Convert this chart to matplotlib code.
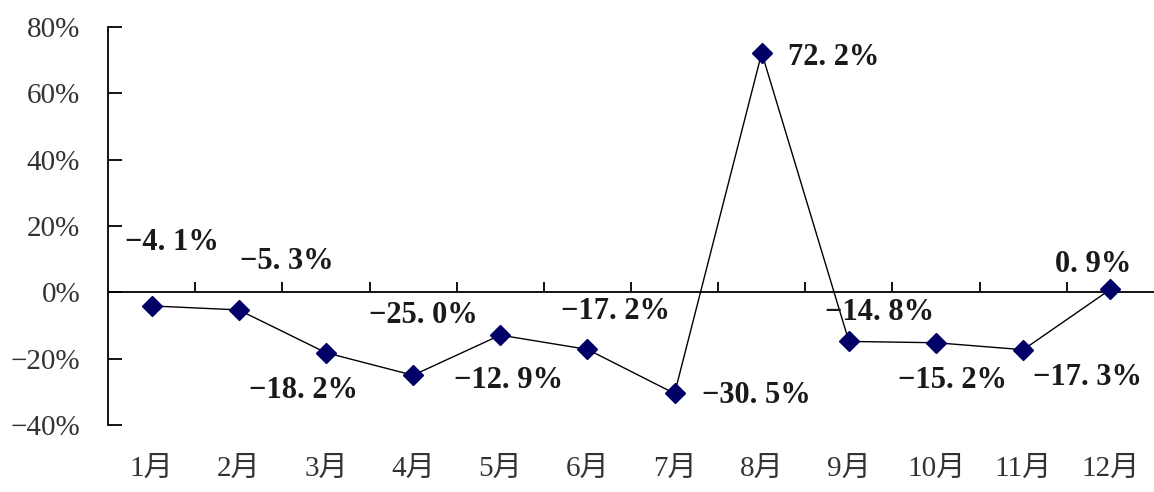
import matplotlib
matplotlib.use("Agg")
import matplotlib.pyplot as plt
from matplotlib.ticker import FuncFormatter

# Monthly growth rate (%)
months = ["1月", "2月", "3月", "4月", "5月", "6月", "7月", "8月", "9月", "10月", "11月", "12月"]
growth = [-4.1, -5.3, -18.2, -25.0, -12.9, -17.2, -30.5, 72.2, -14.8, -15.2, -17.3, 0.9]
y_ticks = [-40, -20, 0, 20, 40, 60, 80]

# label offsets (pixels) from each point, as in the original
label_offsets = [(20, 63), (48, 48), (-22, -38), (10, 60), (8, -45), (28, 38),
                 (82, -2), (72, -5), (31, 29), (16, -38), (64, -28), (-17, 25)]

FONT = ["Liberation Serif", "Noto Sans CJK SC"]
plt.rcParams["font.family"] = FONT
plt.rcParams["axes.unicode_minus"] = True

fig = plt.figure(figsize=(11.54, 4.92), dpi=100)
ax = fig.add_axes([108 / 1154, 67 / 492, 1046 / 1154, 398 / 492])

x = list(range(1, len(months) + 1))
ax.plot(x, growth, color="black", linewidth=1.0, zorder=2)
ax.plot(x, growth, linestyle="none", marker="D", markersize=10,
        markerfacecolor="#000066", markeredgecolor="#000066", zorder=3)

for xi, v, (dx, dy) in zip(x, growth, label_offsets):
    txt = f"{v:.1f}%".replace("-", "\u2212").replace(".", ". ")
    ax.annotate(txt, (xi, v), xytext=(dx, dy), textcoords="offset pixels",
                ha="center", va="center", fontsize=22, fontweight="bold",
                color="#1a1a1a")

ax.set_xlim(0.5, len(months) + 0.5)
ax.set_ylim(-40, 80)

# zero line with category separators
ax.axhline(0, color="black", linewidth=1.3, zorder=1)
ax.vlines([i + 0.5 for i in x[:-1]], 0, 3, color="black", linewidth=1.3)

ax.set_yticks(y_ticks)
ax.yaxis.set_major_formatter(FuncFormatter(lambda v, p: f"{v:.0f}%".replace("-", "\u2212")))
ax.tick_params(axis="y", direction="in", length=10, width=1.3, pad=20,
               labelsize=21, labelcolor="#333333")

ax.set_xticks(x)
ax.set_xticklabels(months)
ax.tick_params(axis="x", length=0, pad=22, labelsize=21, labelcolor="#333333")

for side in ["top", "right", "bottom"]:
    ax.spines[side].set_visible(False)
ax.spines["left"].set_linewidth(1.3)

fig.savefig("out.png", dpi=100)
